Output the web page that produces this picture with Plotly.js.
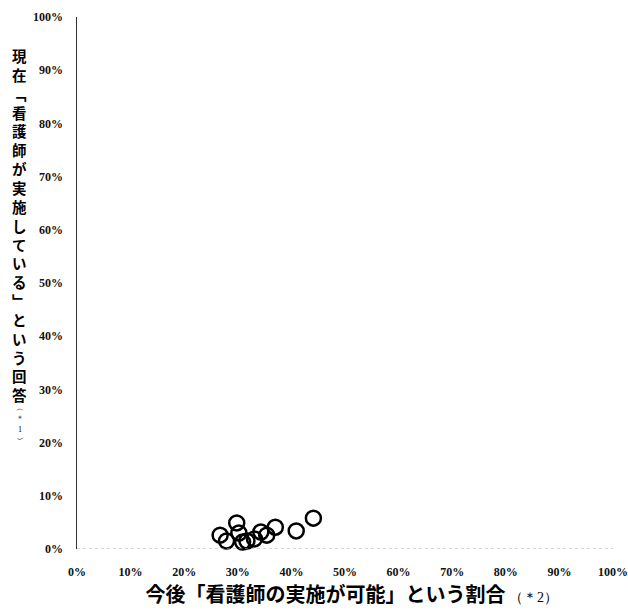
<!DOCTYPE html>
<html><head><meta charset="utf-8">
<script src="https://cdn.plot.ly/plotly-3.0.1.min.js"></script>
<style>html,body{margin:0;padding:0;background:#fff;}#chart{width:628px;height:613px;}</style>
</head><body><div id="chart"></div>
<script>
// Data: share "nurse could perform in future" (x) vs "currently performed by nurse" (y)
const possibleShare = [0.267, 0.279, 0.298, 0.302, 0.309, 0.317, 0.331, 0.343, 0.354, 0.370, 0.409, 0.441];
const currentShare  = [0.026, 0.015, 0.049, 0.030, 0.013, 0.015, 0.019, 0.032, 0.026, 0.041, 0.034, 0.058];
const tickVals = [0, 0.1, 0.2, 0.3, 0.4, 0.5, 0.6, 0.7, 0.8, 0.9, 1.0];
const tickLabels = ["0%", "10%", "20%", "30%", "40%", "50%", "60%", "70%", "80%", "90%", "100%"];
const yTitleChars = ["現","在","﹁","看","護","師","が","実","施","し","て","い","る","﹂","と","い","う","回","答"];
const yTitleNote = ["︵","＊","1","︶"];
const xTitleMain = "今後「看護師の実施が可能」という割合";
const xTitleNote = "（＊2）";

const W = 628, H = 613;
const M = {l: 77, r: 15, t: 17, b: 64};
const tickFont = {family: "Liberation Serif, DejaVu Serif, serif", size: 12, color: "#111", weight: 700};
const cjk = "Noto Sans CJK JP, sans-serif";

const trace = {
  x: possibleShare, y: currentShare, type: "scatter", mode: "markers",
  marker: {symbol: "circle-open", size: 15, color: "#000", line: {width: 2.5, color: "#000"}},
  cliponaxis: false, hoverinfo: "skip"
};

const plotH = H - M.t - M.b;
const pxToPaperY = py => (H - M.b - py) / plotH;
const pxToPaperX = px => (px - M.l) / (W - M.l - M.r);

const layout = {
  width: W, height: H,
  margin: M,
  paper_bgcolor: "#fff", plot_bgcolor: "#fff",
  showlegend: false,
  xaxis: {
    range: [0, 1], tickvals: tickVals, ticktext: tickLabels,
    showgrid: false, zeroline: false, showline: false, ticks: "",
    tickfont: tickFont, ticklabelstandoff: 14, ticklabeloverflow: "allow",
    title: {text: "&nbsp;&nbsp;&nbsp;<b>" + xTitleMain + "</b>" + '<span style="font-size:14px;font-family:Liberation Serif"> ' + xTitleNote + '</span>',
            font: {family: cjk, size: 20, color: "#000"}, standoff: 4}
  },
  yaxis: {
    range: [0, 1], tickvals: tickVals, ticktext: tickLabels,
    showgrid: false, zeroline: false, showline: true, linecolor: "#333", linewidth: 1.5,
    ticks: "", tickfont: tickFont, ticklabelstandoff: 10
  },
  shapes: [{type: "line", xref: "paper", yref: "y", x0: 0, x1: 1, y0: 0, y1: 0,
            line: {color: "#aaa", width: 1, dash: "dot"}}],
  annotations: [
    {xref: "paper", yref: "paper", x: pxToPaperX(19), y: pxToPaperY(43), xanchor: "center", yanchor: "top",
     text: "<b>" + yTitleChars.join("<br>") + "</b>", showarrow: false, align: "center",
     font: {family: cjk, size: 14.5, color: "#000"}},
    {xref: "paper", yref: "paper", x: pxToPaperX(20), y: pxToPaperY(402), xanchor: "center", yanchor: "top",
     text: yTitleNote.join("<br>"), showarrow: false, align: "center",
     font: {family: "Liberation Serif, serif", size: 8, color: "#000"}}
  ]
};

Plotly.newPlot("chart", [trace], layout, {displayModeBar: false, staticPlot: true});
</script></body></html>
